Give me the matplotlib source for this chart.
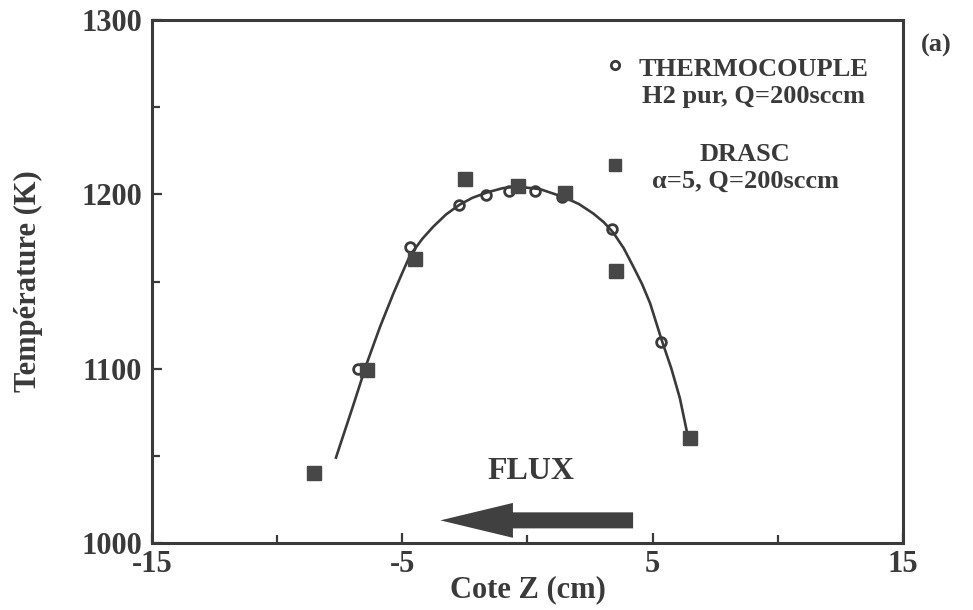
import matplotlib
matplotlib.use("Agg")
import matplotlib.pyplot as plt
from matplotlib.ticker import MultipleLocator

# Mesures thermocouple (H2 pur, Q=200sccm)
tc_z = [-6.76, -4.69, -2.72, -1.67, -0.72, 0.32, 1.37, 3.37, 5.32]
tc_T = [1100, 1170, 1194, 1199.5, 1202, 1202, 1198.5, 1180, 1115.5]

# Mesures DRASC (alpha=5, Q=200sccm)
drasc_z = [-8.53, -6.42, -4.49, -2.50, -0.37, 1.50, 3.54, 6.49]
drasc_T = [1040, 1099, 1163, 1209, 1205, 1201, 1156, 1060]

# Courbe lissée tracée à la main sur le profil
fit_z = [-7.65, -6.96, -6.42, -5.89, -5.36, -5.0, -4.69, -4.2, -3.76, -3.25,
         -2.72, -2.2, -1.63, -1.0, -0.43, 0.50, 1.43, 2.05, 2.63, 3.05, 3.43,
         3.85, 4.23, 4.58, 4.90, 5.36, 5.75, 6.09, 6.41]
fit_T = [1049, 1079, 1103, 1124, 1143, 1155, 1165, 1174.5, 1181.5, 1188.5,
         1194, 1198, 1201, 1203.5, 1204.5, 1203, 1198.5, 1194.5, 1189, 1184,
         1178, 1169, 1158.5, 1148.5, 1137.5, 1116.5, 1100, 1083, 1061]

x_ticks = [-15, -5, 5, 15]
y_ticks = [1000, 1100, 1200, 1300]

INK = "#3a3a3a"
FONT = "Liberation Serif"

plt.rcParams["font.family"] = [FONT, "DejaVu Serif"]
plt.rcParams["axes.unicode_minus"] = False

fig = plt.figure(figsize=(9.73, 6.10), dpi=100)
ax = fig.add_axes([0.1562, 0.1098, 0.7718, 0.8574])

ax.plot(fit_z, fit_T, "-", color=INK, lw=1.9, zorder=3)
ax.plot(tc_z, tc_T, "o", ms=7, mfc="white", mec=INK, mew=2.0, zorder=2)
ax.plot(drasc_z, drasc_T, "s", ms=9.5, mfc="#474747", mec="#474747", zorder=4)

ax.set_xlim(-15, 15)
ax.set_ylim(1000, 1300)
ax.set_xticks(x_ticks)
ax.set_yticks(y_ticks)
ax.xaxis.set_minor_locator(MultipleLocator(5))
ax.yaxis.set_minor_locator(MultipleLocator(50))
ax.tick_params(which="both", direction="in", color=INK, width=1.6)
ax.tick_params(which="major", length=7)
ax.tick_params(which="minor", length=6)
ax.tick_params(axis="x", pad=5)
ax.tick_params(axis="y", pad=7)
for lab in ax.get_xticklabels() + ax.get_yticklabels():
    lab.set_fontsize(22)
    lab.set_fontweight("bold")
    lab.set_color(INK)
for sp in ax.spines.values():
    sp.set_linewidth(2.2)
    sp.set_color(INK)

ax.set_xlabel("Cote Z (cm)", fontsize=22, fontweight="bold", color=INK,
              labelpad=-3)
ax.set_ylabel("Température (K)", fontsize=22, fontweight="bold", color=INK,
              labelpad=28)

# Légende à la main : marqueur + deux lignes de texte
ax.plot([0.6165], [0.914], "o", transform=ax.transAxes, ms=6, mfc="white",
        mec=INK, mew=2.0, clip_on=False)
ax.text(0.801, 0.88, "THERMOCOUPLE\nH2 pur, Q=200sccm", transform=ax.transAxes,
        ha="center", va="center", multialignment="center", fontsize=19,
        fontweight="bold", color=INK, linespacing=1.2)
ax.plot([0.6165], [0.723], "s", transform=ax.transAxes, ms=8,
        mfc="#474747", mec="#474747", clip_on=False)
ax.text(0.79, 0.718, "DRASC\nα=5, Q=200sccm", transform=ax.transAxes,
        ha="center", va="center", multialignment="center", fontsize=19,
        fontweight="bold", color=INK, linespacing=1.2)

# Sens de l'écoulement
ax.text(0.15, 1041, "FLUX", ha="center", va="center", fontsize=23,
        fontweight="bold", color=INK)
ax.arrow(4.22, 1013, -7.7, 0, width=9.2, head_width=20, head_length=2.9,
         length_includes_head=True, color="#404040", lw=0)

fig.text(0.962, 0.926, "(a)", ha="center", va="center", fontsize=19,
         fontweight="bold", color=INK)

fig.savefig("out.png", dpi=100)
